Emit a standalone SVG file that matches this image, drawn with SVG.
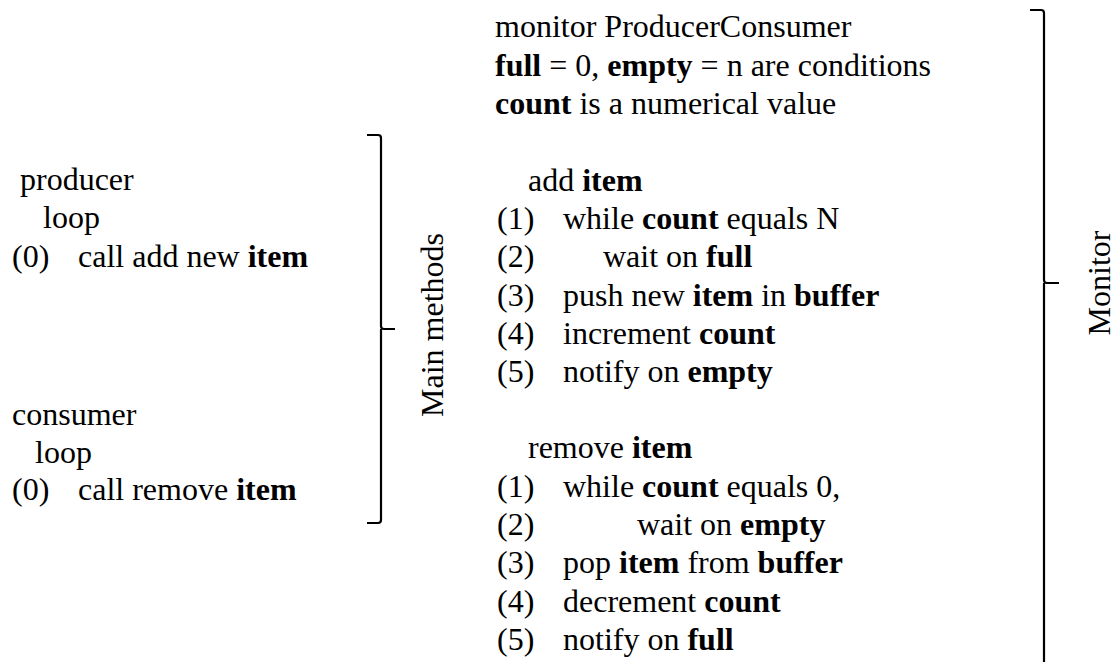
<svg xmlns="http://www.w3.org/2000/svg" width="1115" height="662" viewBox="0 0 1115 662">
<style>
text{font-family:"Liberation Serif","Times New Roman",serif;font-size:32px;fill:#000}
.b{font-weight:bold}
.br{fill:none;stroke:#000;stroke-width:2.2}
</style>
<rect width="1115" height="662" fill="#fff"/>
<g id="producer">
<text x="20" y="190">producer</text>
<text x="43" y="228">loop</text>
<text x="12" y="267">(0)</text>
<text x="78" y="267">call add new <tspan class="b">item</tspan></text>
</g>
<g id="consumer">
<text x="12" y="425">consumer</text>
<text x="35" y="463">loop</text>
<text x="12" y="500">(0)</text>
<text x="78" y="500">call remove <tspan class="b">item</tspan></text>
</g>
<g id="monitor-header">
<text x="495" y="37">monitor ProducerConsumer</text>
<text x="495" y="76"><tspan class="b">full</tspan> = 0, <tspan class="b">empty</tspan> = n are conditions</text>
<text x="495" y="114"><tspan class="b">count</tspan> is a numerical value</text>
</g>
<g id="add-item">
<text x="528" y="191">add <tspan class="b">item</tspan></text>
<text x="497" y="229">(1)</text><text x="563" y="229">while <tspan class="b">count</tspan> equals N</text>
<text x="497" y="267">(2)</text><text x="603" y="267">wait on <tspan class="b">full</tspan></text>
<text x="497" y="306">(3)</text><text x="563" y="306">push new <tspan class="b">item</tspan> in <tspan class="b">buffer</tspan></text>
<text x="497" y="344">(4)</text><text x="563" y="344">increment <tspan class="b">count</tspan></text>
<text x="497" y="382">(5)</text><text x="563" y="382">notify on <tspan class="b">empty</tspan></text>
</g>
<g id="remove-item">
<text x="528" y="458">remove <tspan class="b">item</tspan></text>
<text x="497" y="497">(1)</text><text x="563" y="497">while <tspan class="b">count</tspan> equals 0,</text>
<text x="497" y="535">(2)</text><text x="637" y="535">wait on <tspan class="b">empty</tspan></text>
<text x="497" y="573">(3)</text><text x="563" y="573">pop <tspan class="b">item</tspan> from <tspan class="b">buffer</tspan></text>
<text x="497" y="612">(4)</text><text x="563" y="612">decrement <tspan class="b">count</tspan></text>
<text x="497" y="650">(5)</text><text x="563" y="650">notify on <tspan class="b">full</tspan></text>
</g>
<g id="main-methods-label">
<text x="443" y="325" text-anchor="middle" transform="rotate(-90 443 325)">Main methods</text>
</g>
<g id="monitor-label">
<text x="1110" y="283" text-anchor="middle" transform="rotate(-90 1110 283)">Monitor</text>
</g>
<g id="connectors">
<path class="br" d="M367,135 H378 Q381,135 381,138 V326 Q381,329 384,329 H395 M381,329 V520 Q381,523 378,523 H367"/>
<path class="br" d="M1030,10 H1041 Q1044,10 1044,13 V280 Q1044,283 1047,283 H1059 M1044,283 V662"/>
</g>
</svg>
